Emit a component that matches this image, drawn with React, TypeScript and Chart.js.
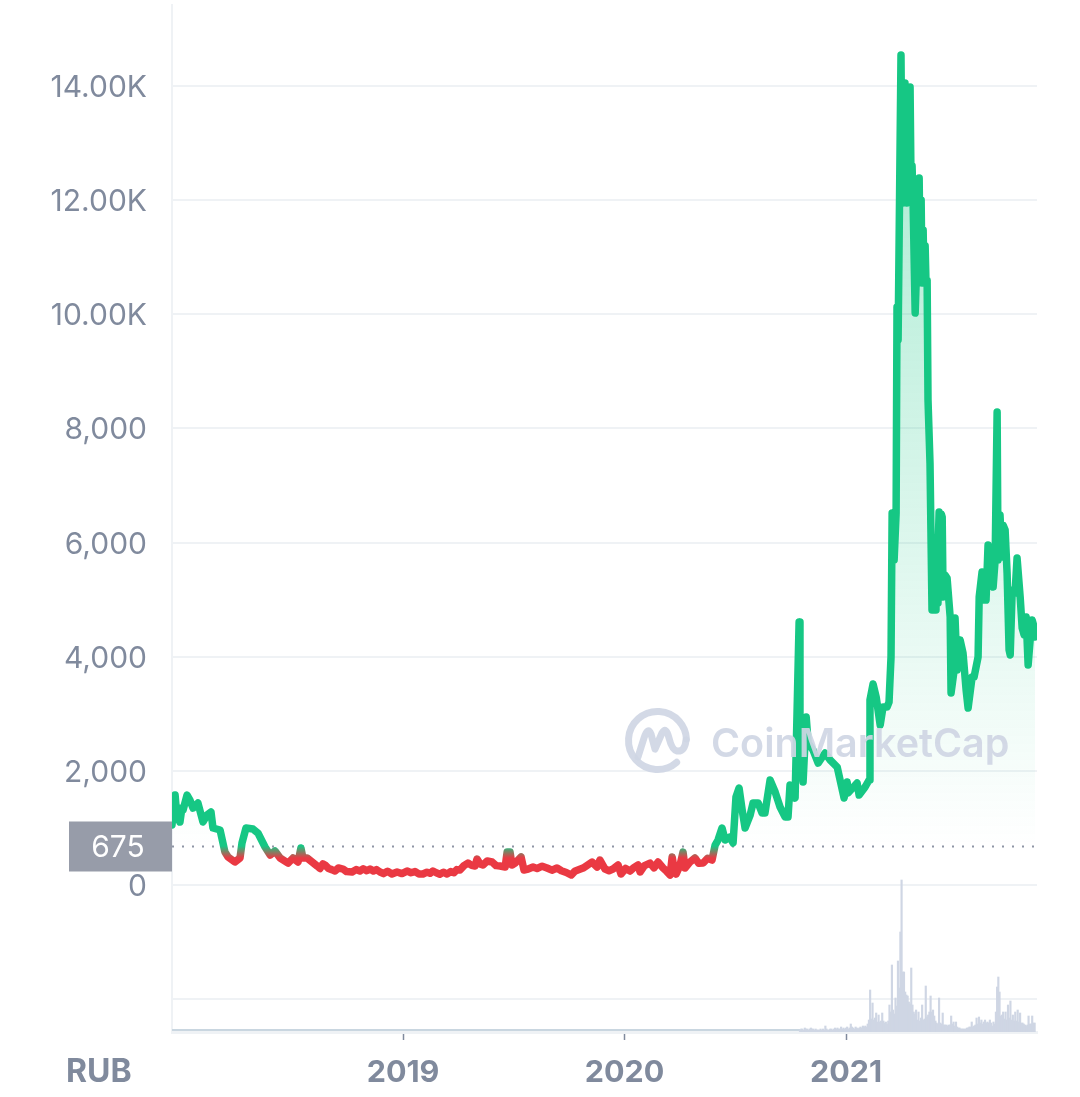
import { useEffect, useRef } from "react";
import { Chart, registerables } from "chart.js";

Chart.register(...registerables);

const GREEN = "#16c784";
const RED = "#ea3943";
const GREY = "#808a9d";
const GRID = "#eff2f5";
const VOLUME = "#cfd6e4";
const FONT = "Inter, sans-serif";

const BASE_PRICE = 675;
const yearTicks = [2019, 2020, 2021];
const priceTicks = [-2000, 0, 2000, 4000, 6000, 8000, 10000, 12000, 14000];
const priceTickLabels = ["", "0", "2,000", "4,000", "6,000", "8,000", "10.00K", "12.00K", "14.00K"];

const priceYears = [
  2017.957, 2017.965, 2017.971, 2017.98, 2017.986, 2017.993, 2018.0, 2018.007, 2018.025, 2018.038,
  2018.052, 2018.074, 2018.097, 2018.115, 2018.133, 2018.142, 2018.174, 2018.196, 2018.21, 2018.241,
  2018.264, 2018.273, 2018.291, 2018.323, 2018.345, 2018.377, 2018.4, 2018.422, 2018.445, 2018.481,
  2018.503, 2018.526, 2018.539, 2018.548, 2018.567, 2018.612, 2018.625, 2018.638, 2018.648, 2018.664,
  2018.678, 2018.693, 2018.708, 2018.729, 2018.745, 2018.77, 2018.788, 2018.805, 2018.82, 2018.836,
  2018.851, 2018.866, 2018.88, 2018.896, 2018.912, 2018.93, 2018.95, 2018.973, 2018.995, 2019.018,
  2019.036, 2019.054, 2019.072, 2019.09, 2019.108, 2019.122, 2019.135, 2019.15, 2019.166, 2019.182,
  2019.199, 2019.215, 2019.23, 2019.243, 2019.257, 2019.275, 2019.293, 2019.31, 2019.325, 2019.334,
  2019.348, 2019.361, 2019.38, 2019.402, 2019.42, 2019.438, 2019.461, 2019.47, 2019.483, 2019.492,
  2019.506, 2019.52, 2019.533, 2019.546, 2019.565, 2019.587, 2019.605, 2019.628, 2019.65, 2019.672,
  2019.695, 2019.715, 2019.737, 2019.759, 2019.775, 2019.795, 2019.813, 2019.833, 2019.853, 2019.876,
  2019.889, 2019.912, 2019.93, 2019.948, 2019.971, 2019.984, 2020.005, 2020.025, 2020.04, 2020.061,
  2020.07, 2020.09, 2020.115, 2020.133, 2020.151, 2020.174, 2020.19, 2020.206, 2020.215, 2020.224,
  2020.233, 2020.25, 2020.264, 2020.273, 2020.295, 2020.318, 2020.335, 2020.355, 2020.375, 2020.395,
  2020.409, 2020.422, 2020.44, 2020.454, 2020.476, 2020.49, 2020.503, 2020.517, 2020.531, 2020.544,
  2020.567, 2020.58, 2020.603, 2020.621, 2020.634, 2020.657, 2020.68, 2020.702, 2020.725, 2020.738,
  2020.747, 2020.77, 2020.788, 2020.792, 2020.801, 2020.806, 2020.82, 2020.829, 2020.851, 2020.874,
  2020.905, 2020.928, 2020.96, 2020.973, 2020.991, 2021.005, 2021.009, 2021.05, 2021.059, 2021.086,
  2021.104, 2021.108, 2021.122, 2021.136, 2021.154, 2021.167, 2021.185, 2021.194, 2021.203, 2021.208,
  2021.217, 2021.226, 2021.23, 2021.235, 2021.248, 2021.253, 2021.257, 2021.262, 2021.266, 2021.271,
  2021.275, 2021.28, 2021.284, 2021.289, 2021.294, 2021.298, 2021.303, 2021.312, 2021.321, 2021.33,
  2021.335, 2021.339, 2021.343, 2021.348, 2021.352, 2021.357, 2021.361, 2021.366, 2021.37, 2021.379,
  2021.388, 2021.393, 2021.397, 2021.402, 2021.406, 2021.411, 2021.415, 2021.42, 2021.425, 2021.43,
  2021.434, 2021.438, 2021.447, 2021.456, 2021.47, 2021.474, 2021.488, 2021.492, 2021.501, 2021.515,
  2021.528, 2021.542, 2021.551, 2021.569, 2021.578, 2021.596, 2021.601, 2021.614, 2021.623, 2021.632,
  2021.641, 2021.65, 2021.664, 2021.673, 2021.682, 2021.686, 2021.695, 2021.704, 2021.709, 2021.718,
  2021.727, 2021.736, 2021.741, 2021.75, 2021.763, 2021.772, 2021.786, 2021.795, 2021.804, 2021.813,
  2021.822, 2021.831, 2021.84, 2021.849, 2021.853,
];

const priceValues = [
  1051, 1400, 1577, 1150, 1350, 1104, 1300, 1314, 1577, 1489,
  1349, 1437, 1104, 1226, 1279, 999, 964, 578, 491, 403,
  473, 736, 999, 981, 911, 666, 526, 596, 473, 385,
  473, 403, 648, 473, 473, 333, 290, 370, 350, 290,
  270, 245, 300, 280, 235, 228, 270, 245, 285, 250,
  280, 245, 270, 228, 200, 240, 193, 228, 200, 245,
  215, 235, 195, 193, 225, 205, 245, 215, 190, 225,
  193, 235, 215, 270, 263, 340, 385, 345, 333, 456,
  370, 350, 420, 403, 340, 333, 315, 578, 578, 350,
  385, 440, 491, 263, 280, 315, 290, 330, 298, 260,
  298, 250, 220, 175, 240, 270, 298, 350, 403, 315,
  438, 280, 250, 280, 350, 193, 290, 245, 300, 350,
  228, 340, 385, 300, 403, 298, 240, 175, 491, 280,
  193, 340, 578, 298, 400, 473, 380, 385, 470, 438,
  701, 788, 999, 788, 841, 736, 1542, 1699, 1314, 999,
  1226, 1437, 1437, 1261, 1261, 1840, 1629, 1367, 1191, 1191,
  1752, 1524, 4608, 2488, 2190, 1805, 2943, 2488, 2365, 2137,
  2313, 2190, 2067, 1840, 1524, 1805, 1612, 1787, 1577, 1717,
  1840, 3241, 3522, 3294, 2803, 3119, 3119, 3206, 3995, 6517,
  5694, 6517, 10127, 9548, 14542, 11949, 14000, 14051, 12000, 11949,
  13800, 13753, 12200, 13981, 12000, 12600, 11879, 10021, 11125, 12387,
  10700, 12000, 10547, 11476, 10600, 11200, 10547, 10600, 8497, 7393,
  4818, 5900, 5519, 4818, 5500, 4941, 5800, 6535, 5900, 6500,
  6447, 5046, 5431, 5379, 4695, 3364, 3767, 4678, 3767, 4292,
  4065, 3416, 3101, 3644, 3644, 3995, 5046, 5484, 4993, 4993,
  5957, 5694, 5221, 5694, 8287, 5694, 6482, 5747, 6307, 6220,
  5466, 4117, 4030, 5168, 5116, 5729, 5046, 4503, 4380, 4695,
  3854, 4292, 4643, 4520, 4345,
];

const VOLUME_START = 2020.792;
const VOLUME_STEP = 0.00546; // two days
const volumeValues = [
  2, 3, 3, 2, 4, 3, 3, 2, 3, 4, 3, 3, 2, 3, 2, 2, 2, 3, 2, 3, 2, 6, 3, 2, 2, 3, 3, 2, 3, 4,
  3, 4, 3, 3, 5, 3, 4, 3, 4, 5, 3, 4, 8, 5, 4, 3, 5, 4, 3, 4, 5, 4, 6, 5,
  6, 5, 8, 12, 42, 13, 29, 12, 14, 19, 10, 17, 10, 11, 19, 11, 9, 10, 8, 11, 27, 20, 67, 22, 18,
  34, 26, 71, 44, 100, 152, 60, 60, 40, 37, 36, 30, 28, 64, 27, 20, 18, 22, 12, 20, 11, 14, 27, 12, 13,
  46, 15, 17, 20, 36, 20, 22, 16, 11, 9, 8, 34, 9, 8, 19, 7, 7, 7, 6, 7, 7, 16, 8, 10, 6,
  10, 5, 4, 4, 3, 3, 3, 3, 3, 4, 4, 5, 5, 10, 5, 6, 7, 14, 8, 15, 9, 12, 8, 10, 12,
  9, 10, 9, 12, 9, 6, 10, 8, 20, 45, 55, 40, 16, 17, 20, 13, 20, 12, 27, 14, 31, 12, 17, 11, 20,
  11, 22, 10, 19, 9, 9, 8, 7, 6, 7, 16, 8, 8, 16, 9, 9,
];
const earlyVolumeYears = [2017.957, 2018.5, 2019, 2019.5, 2020, 2020.5, 2020.792];
const earlyVolumeValues = [2, 2, 2, 2, 2, 2, 2];

const xLimits = [2017.957, 2021.862];

const overlayPlugin = {
  id: "overlay",
  afterDraw(chart: Chart) {
    const { ctx } = chart;
    const baseY = chart.scales.y.getPixelForValue(BASE_PRICE);

    ctx.save();
    // current price tag
    ctx.fillStyle = "#979ca9";
    ctx.fillRect(69, baseY - 25, 103, 50);
    ctx.fillStyle = "#fff";
    ctx.font = `30px ${FONT}`;
    ctx.textAlign = "center";
    ctx.textBaseline = "middle";
    ctx.fillText(String(BASE_PRICE), 118, baseY + 1);

    // currency label
    ctx.fillStyle = GREY;
    ctx.font = `700 32px ${FONT}`;
    ctx.textAlign = "left";
    ctx.fillText("RUB", 66, 1072);

    // watermark
    ctx.strokeStyle = "rgba(207,214,228,0.92)";
    ctx.lineWidth = 7;
    ctx.lineCap = "round";
    ctx.lineJoin = "round";
    ctx.beginPath();
    ctx.arc(657.5, 740.5, 29, 0.85, Math.PI * 2 - 0.05);
    ctx.stroke();
    ctx.beginPath();
    ctx.moveTo(686, 740);
    ctx.quadraticCurveTo(685, 752, 677, 751);
    ctx.quadraticCurveTo(672, 750, 669, 738);
    ctx.quadraticCurveTo(666, 726, 662, 733);
    ctx.lineTo(655, 749);
    ctx.lineTo(651, 734);
    ctx.quadraticCurveTo(648, 726, 644, 738);
    ctx.lineTo(638, 757);
    ctx.stroke();
    ctx.fillStyle = "rgba(207,214,228,0.92)";
    ctx.font = `600 39.5px ${FONT}`;
    ctx.fillText("CoinMarketCap", 711, 745);
    ctx.restore();
  },
};

export default function App() {
  const canvasRef = useRef<HTMLCanvasElement | null>(null);

  useEffect(() => {
    if (!canvasRef.current) return;
    const ctx = canvasRef.current.getContext("2d");
    if (!ctx) return;

    // hard switch from green to red at the current price level
    const lineGradient = ctx.createLinearGradient(0, 846, 0, 858);
    lineGradient.addColorStop(0, GREEN);
    lineGradient.addColorStop(1, RED);

    const fillGradient = ctx.createLinearGradient(0, 55, 0, 846);
    fillGradient.addColorStop(0, "rgba(22,199,132,0.38)");
    fillGradient.addColorStop(1, "rgba(22,199,132,0)");

    const chart = new Chart(ctx, {
      type: "line",
      data: {
        datasets: [
          {
            label: "Price",
            data: priceYears.map((x, i) => ({ x, y: priceValues[i] })),
            borderColor: lineGradient,
            borderWidth: 7.5,
            borderJoinStyle: "round",
            borderCapStyle: "round",
            pointRadius: 0,
            tension: 0,
            fill: { value: BASE_PRICE, above: fillGradient, below: "rgba(0,0,0,0)" },
            order: 1,
          },
          {
            label: "Current",
            data: xLimits.map((x) => ({ x, y: BASE_PRICE })),
            borderColor: "#8f95a6",
            borderWidth: 2,
            borderDash: [2, 8],
            pointRadius: 0,
            order: 2,
          },
          {
            type: "bar",
            label: "Volume",
            data: volumeValues.map((y, i) => ({ x: VOLUME_START + i * VOLUME_STEP, y })),
            backgroundColor: VOLUME,
            barThickness: 1.5,
            grouped: false,
            yAxisID: "yVolume",
            order: 3,
          },
          {
            label: "Early volume",
            data: earlyVolumeYears.map((x, i) => ({ x, y: earlyVolumeValues[i] })),
            borderColor: "#c9d6e0",
            borderWidth: 2,
            pointRadius: 0,
            yAxisID: "yVolume",
            order: 3,
          },
        ],
      },
      options: {
        responsive: false,
        animation: false,
        layout: { padding: { top: 5, right: 43, left: 0, bottom: 0 } },
        plugins: { legend: { display: false }, tooltip: { enabled: false } },
        scales: {
          x: {
            type: "linear",
            min: xLimits[0],
            max: xLimits[1],
            offset: false,
            afterBuildTicks: (scale) => {
              scale.ticks = yearTicks.map((value) => ({ value }));
            },
            afterFit: (scale) => {
              scale.height = 65;
              scale.paddingLeft = 0;
              scale.paddingRight = 0;
            },
            border: { color: GRID, width: 3 },
            grid: {
              offset: false,
              drawOnChartArea: false,
              drawTicks: true,
              tickColor: GREY,
              tickLength: 8,
              tickWidth: 1.5,
            },
            ticks: {
              color: GREY,
              padding: 15,
              maxRotation: 0,
              font: { family: FONT, size: 30.5, weight: 700 },
              callback: (value) => String(value),
            },
          },
          y: {
            min: -2575,
            max: 15418,
            afterBuildTicks: (scale) => {
              scale.ticks = priceTicks.map((value) => ({ value }));
            },
            afterFit: (scale) => {
              scale.width = 172;
              scale.paddingTop = 0;
              scale.paddingBottom = 0;
            },
            border: { color: GRID, width: 2 },
            grid: { color: GRID, lineWidth: 2, drawTicks: false },
            ticks: {
              color: GREY,
              padding: 25,
              labelOffset: 2,
              font: { family: FONT, size: 30 },
              callback: (value) => priceTickLabels[priceTicks.indexOf(Number(value))],
            },
          },
          yVolume: {
            display: false,
            min: 0,
            max: 1027,
          },
        },
      },
      plugins: [overlayPlugin],
    });

    return () => {
      chart.destroy();
    };
  }, []);

  return (
    <div style={{ position: "absolute", left: 0, top: 0, width: 1080, height: 1097, background: "#fff" }}>
      <canvas ref={canvasRef} width={1080} height={1097} style={{ display: "block" }}></canvas>
    </div>
  );
}
